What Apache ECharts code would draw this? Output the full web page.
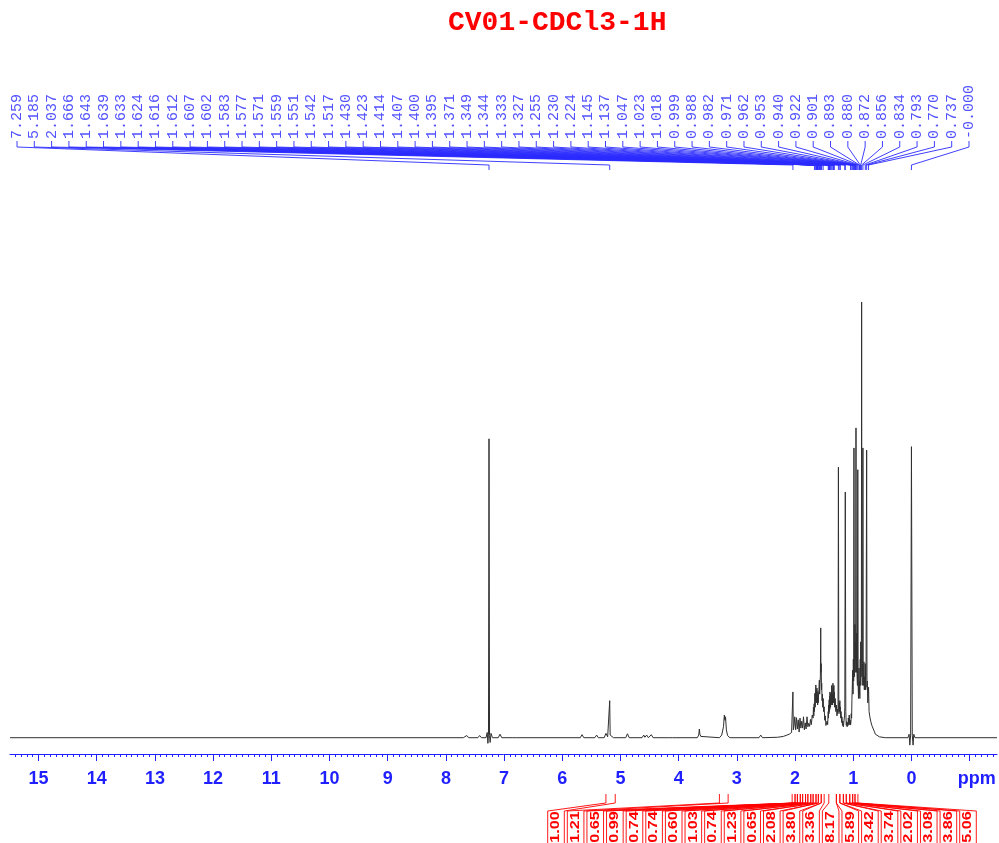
<!DOCTYPE html>
<html>
<head>
<meta charset="utf-8">
<script src="https://cdn.jsdelivr.net/npm/echarts@6/dist/echarts.min.js"></script>
<style>
html, body { margin: 0; padding: 0; background: #fff; }
#nmr { width: 999px; height: 843px; }
</style>
</head>
<body>
<div id="nmr"></div>
<script>
// ---- data ----
const titleText = 'CV01-CDCl3-1H';

// major ppm ticks (the last one carries the "ppm" unit)
const majorTicks = [15, 14, 13, 12, 11, 10, 9, 8, 7, 6, 5, 4, 3, 2, 1, 0, -1];

// peak picking labels, left to right
const peakLabels = [
  '7.259', '5.185', '2.037', '1.666', '1.643', '1.639', '1.633', '1.624', '1.616', '1.612',
  '1.607', '1.602', '1.583', '1.577', '1.571', '1.559', '1.551', '1.542', '1.517', '1.430',
  '1.423', '1.414', '1.407', '1.400', '1.395', '1.371', '1.349', '1.344', '1.333', '1.327',
  '1.255', '1.230', '1.224', '1.145', '1.137', '1.047', '1.023', '1.018', '0.999', '0.988',
  '0.982', '0.971', '0.962', '0.953', '0.940', '0.922', '0.901', '0.893', '0.880', '0.872',
  '0.856', '0.834', '0.793', '0.770', '0.737', '-0.000'
];

// integral regions [from, to] in ppm and their values
const integralRanges = [
  [5.25, 5.09], [3.30, 3.15],
  [2.05, 2.00], [2.00, 1.96], [1.96, 1.91], [1.91, 1.87], [1.87, 1.82], [1.82, 1.78],
  [1.78, 1.73], [1.73, 1.69], [1.69, 1.64], [1.64, 1.60], [1.60, 1.55], [1.55, 1.50],
  [1.42, 1.29],
  [1.29, 1.23], [1.23, 1.17], [1.17, 1.12], [1.12, 1.06], [1.06, 1.01], [1.01, 0.97], [0.97, 0.92]
];
const integralValues = [
  '1.00', '1.21', '0.65', '0.99', '0.74', '0.74', '0.60', '1.03', '0.74', '1.23', '0.65',
  '2.08', '3.80', '3.36', '8.17', '5.89', '3.42', '3.74', '2.02', '3.08', '3.86', '5.06'
];

// spectrum trace [ppm, relative intensity], tallest line = 100
const spectrum = [
  [15.49, 0], [7.70, 0], [7.67, 0.1], [7.64, 0.5], [7.61, 0],
  [7.45, 0], [7.42, 0.5], [7.39, 0],
  [7.31, 0], [7.29, 1.2], [7.278, -1.3], [7.268, 0.8], [7.259, 68.6], [7.250, 0.5], [7.240, -1.1], [7.225, 1.0], [7.20, 0],
  [7.10, 0], [7.07, 0.8], [7.04, 0],
  [6.85, 0], [6.82, 0.3], [6.79, 0],
  [5.69, 0], [5.66, 0.7], [5.63, 0],
  [5.44, 0], [5.41, 0.6], [5.38, 0],
  [5.28, 0], [5.25, 1.0], [5.22, 0.2], [5.193, 0.6], [5.185, 8.5], [5.177, 0.6], [5.15, 0.9], [5.12, 0],
  [4.91, 0], [4.88, 0.9], [4.85, 0],
  [4.63, 0], [4.60, 0.6], [4.58, 0.1], [4.55, 0.6], [4.52, 0], [4.49, 0.1], [4.47, 0.7], [4.44, 0],
  [4.17, 0], [4.14, 0.3], [4.11, 0],
  [3.68, 0], [3.655, 0.6], [3.645, 2.0], [3.635, 0.8], [3.62, 0.3], [3.60, 0],
  [3.30, 0], [3.26, 0.6], [3.23, 2.5], [3.215, 5.2], [3.205, 4.0], [3.195, 4.8], [3.18, 1.8], [3.16, 0.5], [3.12, 0],
  [2.62, 0], [2.59, 0.6], [2.56, 0],
  [2.30, 0.1], [2.20, 0.3], [2.10, 0.8], [2.06, 1.2], [2.045, 1.6], [2.037, 10.5], [2.030, 1.8],
  [2.020, 2.5], [2.005, 4.8], [1.99, 1.8], [1.975, 4.6], [1.96, 2.0], [1.945, 4.1], [1.93, 1.3], [1.915, 4.5],
  [1.90, 2.2], [1.885, 3.8], [1.87, 2.2], [1.855, 4.8], [1.84, 1.8], [1.825, 3.4], [1.81, 2.0], [1.795, 4.8],
  [1.78, 2.5], [1.765, 3.3], [1.75, 2.6], [1.735, 4.2], [1.72, 3.0], [1.705, 5.2],
  [1.69, 4.5], [1.684, 7.0], [1.678, 5.0], [1.672, 7.8], [1.666, 6.0], [1.66, 10.2], [1.654, 7.0], [1.648, 9.5],
  [1.643, 12.1], [1.639, 8.5], [1.633, 11.0], [1.628, 8.0], [1.624, 11.4], [1.619, 8.0], [1.616, 10.0],
  [1.612, 7.5], [1.607, 10.6], [1.602, 8.0], [1.596, 9.8], [1.590, 11.0], [1.583, 13.2], [1.577, 10.0],
  [1.571, 12.5], [1.565, 14.0], [1.559, 25.2], [1.555, 15.0], [1.551, 17.0], [1.546, 11.0], [1.542, 12.5],
  [1.536, 8.5], [1.530, 10.0], [1.524, 7.0], [1.517, 9.0], [1.51, 6.0], [1.50, 7.1], [1.49, 4.0], [1.48, 5.0],
  [1.47, 2.8], [1.46, 2.5], [1.45, 3.8], [1.44, 3.0], [1.430, 6.0], [1.426, 4.5], [1.423, 7.5], [1.418, 5.5],
  [1.414, 8.7], [1.410, 6.0], [1.407, 9.5], [1.403, 6.5], [1.400, 10.5], [1.397, 7.0], [1.395, 9.0],
  [1.390, 7.0], [1.385, 10.2], [1.378, 7.5], [1.371, 12.0], [1.365, 8.0], [1.360, 10.0], [1.355, 7.5],
  [1.349, 12.5], [1.346, 9.0], [1.344, 11.5], [1.338, 8.0], [1.333, 12.0], [1.330, 9.0], [1.327, 10.5],
  [1.32, 7.0], [1.31, 9.0], [1.30, 6.0], [1.29, 7.5], [1.28, 5.0], [1.27, 6.5], [1.262, 5.5],
  [1.255, 62.1], [1.248, 6.0], [1.240, 8.0], [1.235, 6.0], [1.230, 8.5], [1.227, 5.5], [1.224, 7.1],
  [1.215, 4.5], [1.21, 6.0], [1.20, 3.5], [1.195, 4.8], [1.185, 2.8], [1.18, 3.8], [1.17, 2.5], [1.16, 2.9],
  [1.15, 5.0], [1.145, 7.0], [1.137, 56.4], [1.128, 6.0], [1.12, 2.8], [1.115, 3.7], [1.105, 2.5],
  [1.10, 3.5], [1.09, 2.8], [1.085, 4.5], [1.075, 3.0], [1.07, 5.2], [1.06, 3.0], [1.052, 4.0], [1.047, 2.9],
  [1.040, 3.5], [1.035, 5.5], [1.028, 4.5], [1.023, 8.7], [1.018, 11.0], [1.010, 15.5],
  [1.004, 10.0], [0.999, 18.0], [0.993, 13.0], [0.988, 66.5], [0.984, 22.0], [0.978, 14.0], [0.971, 26.0],
  [0.966, 15.0], [0.962, 22.0], [0.958, 18.0], [0.953, 71.1], [0.948, 20.0], [0.944, 15.0], [0.940, 24.0],
  [0.934, 14.0], [0.928, 12.0], [0.922, 61.5], [0.916, 12.0], [0.910, 9.0], [0.905, 13.0], [0.901, 16.0],
  [0.897, 10.0], [0.893, 13.0], [0.887, 9.0], [0.880, 18.0], [0.876, 12.0], [0.872, 22.0], [0.866, 14.0],
  [0.861, 17.0], [0.856, 100], [0.851, 15.0], [0.845, 12.0], [0.840, 17.0], [0.834, 66.5], [0.829, 16.0],
  [0.822, 12.0], [0.817, 17.4], [0.810, 11.0], [0.804, 14.0], [0.798, 11.0], [0.793, 17.0], [0.786, 11.0],
  [0.780, 14.0], [0.770, 66.0], [0.764, 11.6], [0.758, 13.0], [0.750, 8.0], [0.743, 10.0], [0.737, 11.6],
  [0.728, 6.0], [0.715, 4.8], [0.70, 3.8], [0.68, 2.8], [0.66, 2.5], [0.64, 1.5], [0.62, 0.8], [0.60, 0.5],
  [0.55, 0.2], [0.45, 0],
  [0.06, 0], [0.04, 0.8], [0.028, -1.7], [0.014, 0.6], [0.0, 66.8], [-0.014, 0.6], [-0.028, -1.7], [-0.04, 0.8],
  [-0.06, 0], [-1.47, 0]
];

// ---- chart ----
const BLUE = '#1f1fff';
const RED = '#ff0000';
const X_MIN = -1.47, X_MAX = 15.49;

// minor ticks every 0.1 ppm
const minorTicks = [];
for (let v = -14; v <= 154; v++) minorTicks.push(v / 10);

const chart = echarts.init(document.getElementById('nmr'));

function peakLabelItem(params, api) {
  const i = api.value(1);
  const px = api.coord([api.value(0), 0])[0];
  const n = peakLabels.length;
  const lx = 17 + i * (969 - 17) / (n - 1);
  return {
    type: 'group',
    children: [
      {
        type: 'text', x: lx, y: 139, rotation: Math.PI / 2,
        style: {
          text: peakLabels[i], align: 'left', verticalAlign: 'middle',
          font: '15px "Liberation Mono", monospace', fill: '#5252ff'
        }
      },
      {
        type: 'polyline',
        shape: { points: [[lx, 141], [lx, 147], [px, 165], [px, 170]] },
        style: { stroke: '#2a2aff', fill: null, lineWidth: 0.9 }
      }
    ]
  };
}

function integralItem(params, api) {
  const i = api.value(1);
  const r = integralRanges[i];
  const xa = api.coord([r[0], 0])[0];
  const xb = api.coord([r[1], 0])[0];
  const n = integralValues.length;
  const c = 556 + i * (968 - 556) / (n - 1);
  const hw = 8.3;
  return {
    type: 'group',
    children: [
      {
        type: 'polyline',
        shape: { points: [[xa, 794], [xa, 803], [c - hw, 811], [c - hw, 843]] },
        style: { stroke: RED, fill: null, lineWidth: 0.9 }
      },
      {
        type: 'polyline',
        shape: { points: [[xb, 794], [xb, 803], [c + hw, 811], [c + hw, 843]] },
        style: { stroke: RED, fill: null, lineWidth: 0.9 }
      },
      {
        type: 'text', x: c, y: 827, rotation: Math.PI / 2, scaleX: 1.35,
        style: {
          text: integralValues[i], align: 'center', verticalAlign: 'middle',
          font: 'bold 12px "Liberation Sans", Arial, sans-serif', fill: RED
        }
      }
    ]
  };
}

const option = {
  animation: false,
  backgroundColor: '#fff',
  title: {
    text: titleText,
    left: 443,
    top: 4,
    textStyle: {
      color: RED, fontSize: 28, fontWeight: 'bold',
      fontFamily: '"Liberation Mono", "Courier New", monospace'
    }
  },
  grid: { left: 10, right: 2, top: 190, bottom: 89, containLabel: false },
  xAxis: [
    {
      type: 'value', position: 'bottom', min: X_MIN, max: X_MAX, inverse: true,
      splitLine: { show: false },
      axisLine: { show: true, onZero: false, lineStyle: { color: BLUE, width: 1 } },
      axisTick: { show: true, customValues: majorTicks, length: 7, lineStyle: { color: BLUE, width: 1 } },
      axisLabel: {
        customValues: majorTicks,
        margin: 16,
        color: BLUE, fontSize: 18, fontWeight: 'bold',
        fontFamily: '"Liberation Sans", Arial, sans-serif',
        formatter: v => (v === -1 ? '{u|ppm}' : String(v)),
        rich: {
          u: {
            color: BLUE, fontSize: 18, fontWeight: 'bold',
            fontFamily: '"Liberation Sans", Arial, sans-serif',
            padding: [0, 0, 0, 14]
          }
        }
      }
    },
    {
      type: 'value', position: 'bottom', offset: 0, min: X_MIN, max: X_MAX, inverse: true,
      splitLine: { show: false },
      axisLine: { show: false, onZero: false },
      axisLabel: { show: false },
      axisTick: { show: true, customValues: minorTicks, length: 3, lineStyle: { color: BLUE, width: 1 } }
    }
  ],
  yAxis: { type: 'value', show: false, min: -3.74, max: 125.7, splitLine: { show: false } },
  series: [
    {
      type: 'line',
      name: 'spectrum',
      xAxisIndex: 0,
      data: spectrum,
      showSymbol: false,
      silent: true,
      lineStyle: { color: '#303030', width: 1 },
      z: 5
    },
    {
      type: 'custom',
      name: 'peaks',
      xAxisIndex: 0,
      clip: false,
      silent: true,
      renderItem: peakLabelItem,
      data: peakLabels.map((t, i) => [parseFloat(t), i])
    },
    {
      type: 'custom',
      name: 'integrals',
      xAxisIndex: 0,
      clip: false,
      silent: true,
      renderItem: integralItem,
      data: integralRanges.map((r, i) => [(r[0] + r[1]) / 2, i])
    }
  ]
};

chart.setOption(option);
</script>
</body>
</html>
